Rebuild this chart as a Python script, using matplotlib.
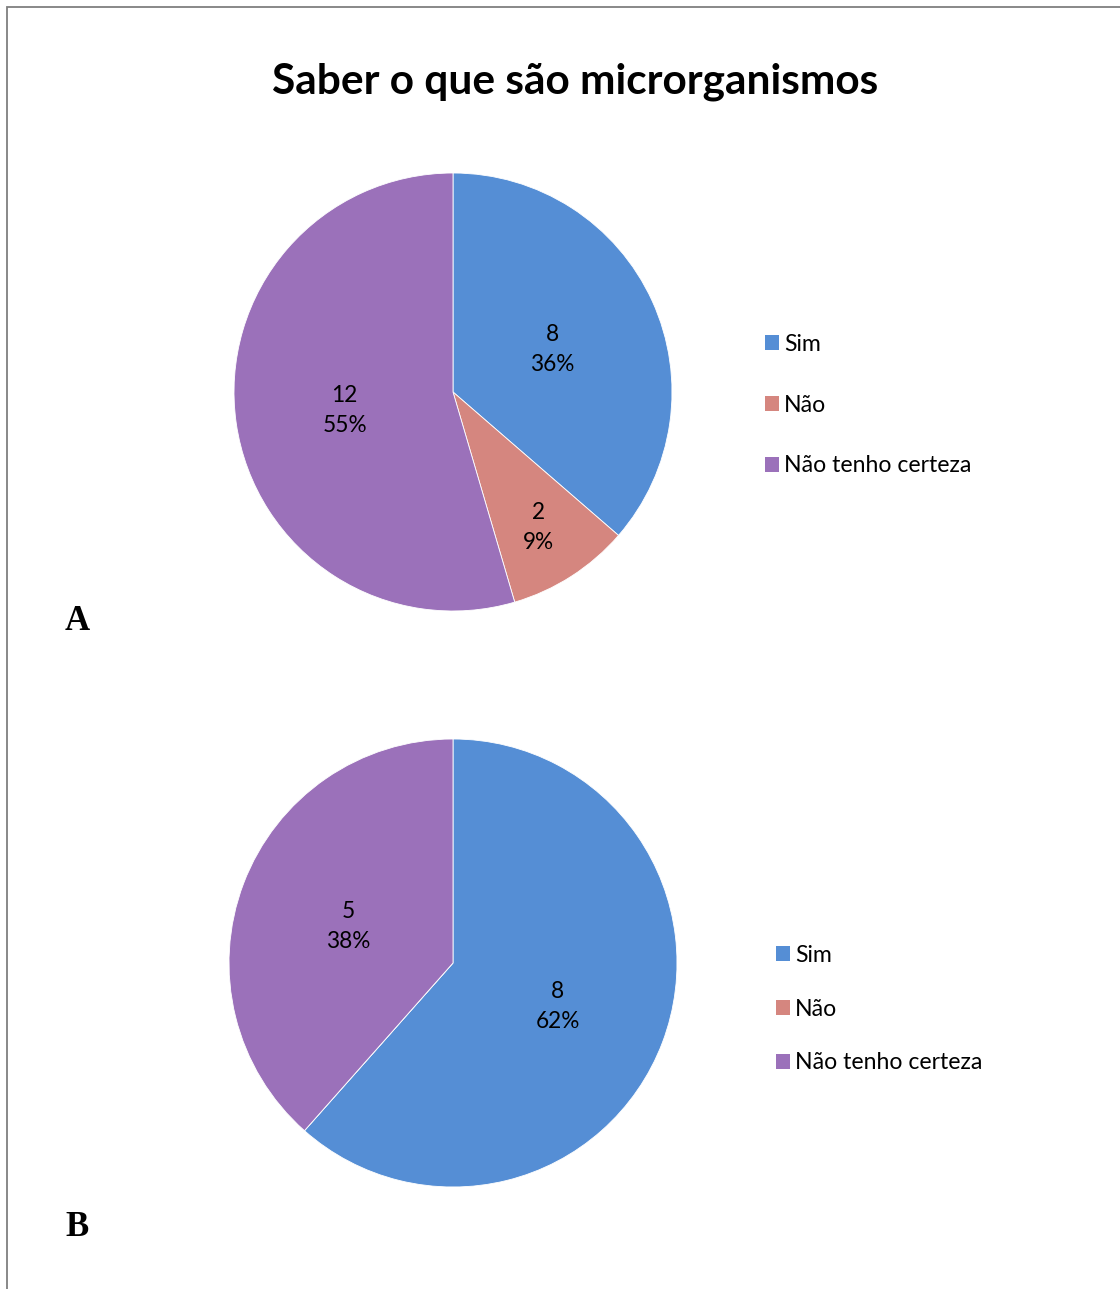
import matplotlib
matplotlib.use("Agg")
import matplotlib.pyplot as plt
from matplotlib.patches import Rectangle, Patch
import numpy as np

plt.rcParams['font.family'] = ['Lato', 'DejaVu Sans']

title = "Saber o que são microrganismos"
categories = ["Sim", "Não", "Não tenho certeza"]
values_a = [8, 2, 12]
values_b = [8, 0, 5]
panel_labels = ["A", "B"]
colors = ["#558ed5", "#d5867f", "#9b71ba"]

W, H = 1120, 1289
fig = plt.figure(figsize=(W / 100, H / 100), dpi=100)

# page border (top and left edges visible)
fig.add_artist(Rectangle((7 / W, -0.05), 1.2, 1 - 7 / H + 0.05,
                         transform=fig.transFigure, fill=False,
                         edgecolor="#7f7f7f", linewidth=1.3))

fig.text(575 / W, 1 - 82 / H, title, ha="center", va="center",
         fontsize=30.5, fontweight="bold", color="#000000")


def draw_pie(cx, cy, r, values, legend_xy, spacing, panel, panel_xy):
    ax = fig.add_axes([(cx - r) / W, (H - cy - r) / H, 2 * r / W, 2 * r / H])
    wedges, _ = ax.pie(values, colors=colors, startangle=90, counterclock=False,
                       radius=1.0, wedgeprops=dict(edgecolor="white", linewidth=0.6))
    ax.set_xlim(-1, 1)
    ax.set_ylim(-1, 1)
    ax.set_aspect("equal")
    total = sum(values)
    for w, v in zip(wedges, values):
        if v == 0:
            continue
        mid = np.deg2rad((w.theta1 + w.theta2) / 2)
        pct = round(100 * v / total)
        # narrow slices get their label pushed further out
        dist = 0.5 if v / total >= 0.2 else 0.72
        ax.text(dist * np.cos(mid), dist * np.sin(mid) - 0.015, f"{v}\n{pct}%",
                ha="center", va="center", fontsize=16.3, linespacing=1.53,
                color="#000000")
    handles = [Patch(facecolor=c, edgecolor="none") for c in colors]
    fig.legend(handles, categories, loc="center left",
               bbox_to_anchor=(legend_xy[0] / W, 1 - legend_xy[1] / H),
               frameon=False, fontsize=16.6, handlelength=0.62, handleheight=0.62,
               handletextpad=0.2, labelspacing=spacing, borderpad=0,
               borderaxespad=0)
    fig.text(panel_xy[0] / W, 1 - panel_xy[1] / H, panel, ha="center",
             va="center", fontsize=25, fontweight="bold",
             family="Liberation Serif", color="#000000")


draw_pie(453, 392, 219, values_a, (765, 405), 1.72, panel_labels[0], (77, 621))
draw_pie(453, 963, 224, values_b, (776, 1009), 1.42, panel_labels[1], (77, 1227))

fig.savefig("out.png", dpi=100, facecolor="white")
